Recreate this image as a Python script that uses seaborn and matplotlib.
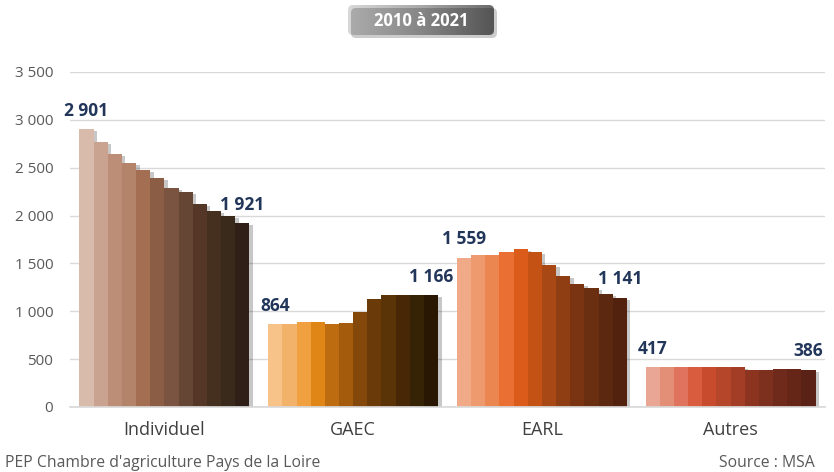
import numpy as np
import pandas as pd
import matplotlib
matplotlib.use("Agg")
import matplotlib.pyplot as plt
import seaborn as sns
from matplotlib.patches import FancyBboxPatch
from matplotlib.colors import LinearSegmentedColormap
import matplotlib.patheffects as pe

categories = ["Individuel", "GAEC", "EARL", "Autres"]
years = [str(y) for y in range(2010, 2022)]
individuel = [2901, 2770, 2645, 2545, 2480, 2395, 2290, 2250, 2120, 2050, 1995, 1921]
gaec = [864, 868, 888, 885, 865, 882, 995, 1125, 1165, 1170, 1168, 1166]
earl = [1559, 1590, 1590, 1620, 1652, 1620, 1485, 1370, 1287, 1245, 1182, 1141]
autres = [417, 417, 420, 420, 417, 417, 420, 388, 388, 395, 395, 386]
yticks = [0, 500, 1000, 1500, 2000, 2500, 3000, 3500]

colors = {
    "Individuel": ["#D8BBAA", "#C9A290", "#BC8E78", "#B3846A", "#A36E51", "#8B5D45",
                   "#7A5440", "#654634", "#543727", "#45301F", "#3A2A1C", "#2F1F17"],
    "GAEC": ["#F7C389", "#F3B26A", "#F1A03F", "#DF8617", "#BD6C10", "#A45B0C",
             "#83480A", "#6B3A09", "#5A3307", "#472705", "#362306", "#2A1703"],
    "EARL": ["#F1AA88", "#EE9A6E", "#EC8651", "#E96F32", "#DB5B1A", "#C45215",
             "#A84814", "#8F3E13", "#7A3411", "#6A2E11", "#5C2810", "#52220E"],
    "Autres": ["#E9A694", "#E38E77", "#DF735D", "#D95C3E", "#C94B2E", "#B6462A",
               "#A43D25", "#8C3420", "#7E301F", "#6F2A1C", "#652618", "#5A2116"],
}

series = {"Individuel": individuel, "GAEC": gaec, "EARL": earl, "Autres": autres}
rows = []
for c in categories:
    for y, v in zip(years, series[c]):
        rows.append({"cat": c, "year": y, "value": v})
df = pd.DataFrame(rows)

sns.set_theme(style="white")
plt.rcParams["font.family"] = ["Open Sans", "DejaVu Sans"]

fig = plt.figure(figsize=(8.34, 4.72), dpi=100)
ax = fig.add_axes([70/834, 1-407/472, (825-70)/834, (407-72)/472])

sns.barplot(data=df, x="cat", y="value", hue="year", order=categories, hue_order=years,
            width=0.9, gap=0, dodge=True, legend=False, ax=ax, errorbar=None,
            linewidth=0, saturation=1)

shadow = [pe.SimplePatchShadow(offset=(2.5, -1.5), shadow_rgbFace="black", alpha=0.22), pe.Normal()]
for hi, cont in enumerate(ax.containers):
    for ci, bar in enumerate(cont):
        bar.set_facecolor(colors[categories[ci]][hi])
        bar.set_edgecolor("none")
        bar.set_path_effects(shadow)

label_color = "#22365A"
first = ax.containers[0]
last = ax.containers[-1]
for ci, c in enumerate(categories):
    for cont, v in ((first, series[c][0]), (last, series[c][-1])):
        bar = cont[ci]
        xc = bar.get_x() + bar.get_width() / 2
        ax.text(xc, v + 100, f"{v:,}".replace(",", " "), ha="center", va="bottom",
                fontsize=12.5, fontweight="bold", color=label_color)

ax.set_ylim(0, 3500)
ax.set_xlim(-0.5, 3.5)
ax.set_yticks(yticks)
ax.set_yticklabels([f"{t:,}".replace(",", " ") for t in yticks], fontsize=11, color="#595959")
ax.tick_params(axis="x", labelsize=13, colors="#404040", length=0, pad=10)
ax.tick_params(axis="y", length=0, pad=12)
ax.set_xlabel("")
ax.set_ylabel("")
ax.grid(axis="y", color="#D9D9D9", linewidth=1)
ax.set_axisbelow(True)
for s in ["top", "right", "left"]:
    ax.spines[s].set_visible(False)
ax.spines["bottom"].set_color("#D9D9D9")

# overlay axes in pixel coordinates for the title box
oax = fig.add_axes([0, 0, 1, 1], zorder=5)
oax.set_xlim(0, 834)
oax.set_ylim(472, 0)
oax.set_axis_off()
bx, by, bw, bh = 348, 5, 146, 30
oax.add_patch(FancyBboxPatch((bx + 3, by + 3), bw, bh, boxstyle="round,pad=0,rounding_size=5",
                             facecolor="black", alpha=0.2, edgecolor="none"))
cmap = LinearSegmentedColormap.from_list("g", ["#D8D8D8", "#A8A8A8", "#6A6A6A"])
grad = np.linspace(0, 1, 256).reshape(1, -1)
im = oax.imshow(grad, aspect="auto", cmap=cmap, extent=(bx, bx + bw, by + bh, by),
                interpolation="bilinear")
clip = FancyBboxPatch((bx, by), bw, bh, boxstyle="round,pad=0,rounding_size=5",
                      facecolor="none", edgecolor="none")
oax.add_patch(clip)
im.set_clip_path(clip)
oax.set_xlim(0, 834)
oax.set_ylim(472, 0)
oax.text(bx + bw / 2, by + bh / 2 + 1, "2010 à 2021", ha="center", va="center", color="white",
         fontsize=12, fontweight="bold")

fig.text(5/834, 1-463/472, "PEP Chambre d'agriculture Pays de la Loire", fontsize=11.3,
         color="#595959", ha="left", va="center")
fig.text(815/834, 1-463/472, "Source : MSA", fontsize=11.3, color="#595959",
         ha="right", va="center")

fig.savefig("out.png", dpi=100)
